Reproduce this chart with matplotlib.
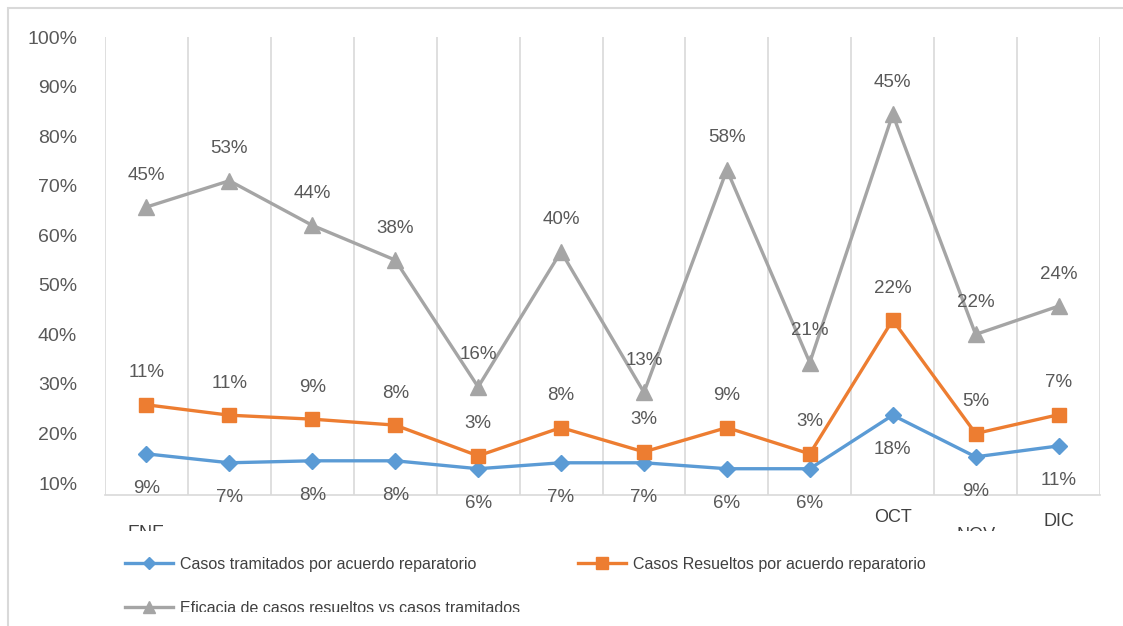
import matplotlib
matplotlib.use("Agg")
import matplotlib.pyplot as plt
from matplotlib.patches import Rectangle
from matplotlib.transforms import Bbox

W, H = 1123, 626

meses = ["ENE", "FEB", "MAR", "ABR", "MAY", "JUN", "JUL", "AGO", "SEP", "OCT", "NOV", "DIC"]
# only these month labels are visible in the original
meses_visibles = ["ENE", "OCT", "NOV", "DIC"]

tramitados = [15.9, 14.1, 14.5, 14.5, 12.9, 14.1, 14.1, 12.9, 12.9, 23.7, 15.3, 17.5]
resueltos = [25.8, 23.7, 22.9, 21.7, 15.5, 21.2, 16.3, 21.2, 15.9, 42.9, 20.0, 23.8]
eficacia = [65.7, 71.0, 62.0, 55.0, 29.4, 56.7, 28.3, 73.2, 34.3, 84.4, 40.0, 45.7]

etiq_tramitados = ["9%", "7%", "8%", "8%", "6%", "7%", "7%", "6%", "6%", "18%", "9%", "11%"]
etiq_resueltos = ["11%", "11%", "9%", "8%", "3%", "8%", "3%", "9%", "3%", "22%", "5%", "7%"]
etiq_eficacia = ["45%", "53%", "44%", "38%", "16%", "40%", "13%", "58%", "21%", "45%", "22%", "24%"]

azul = "#5B9BD5"
naranja = "#ED7D31"
gris = "#A5A5A5"
texto = "#595959"

plt.rcParams["font.family"] = ["Liberation Sans", "DejaVu Sans"]

fig = plt.figure(figsize=(W / 100, H / 100), dpi=100)
ax = fig.add_axes([105 / W, 1 - 495 / H, (1100 - 105) / W, (495 - 37) / H])

x = list(range(len(meses)))
l1, = ax.plot(x, tramitados, color=azul, lw=2.4, marker="D", ms=8, zorder=3,
              label="Casos tramitados por acuerdo reparatorio")
l2, = ax.plot(x, resueltos, color=naranja, lw=2.4, marker="s", ms=10, zorder=3,
              label="Casos Resueltos por acuerdo reparatorio")
l3, = ax.plot(x, eficacia, color=gris, lw=2.4, marker="^", ms=11, zorder=3,
              label="Eficacia de casos resueltos vs casos tramitados")

for i in x:
    ax.annotate(etiq_tramitados[i], (i, tramitados[i]), xytext=(0, -25), textcoords="offset points",
                ha="center", va="center", fontsize=13.5, color=texto)
    ax.annotate(etiq_resueltos[i], (i, resueltos[i]), xytext=(0, 23), textcoords="offset points",
                ha="center", va="center", fontsize=13.5, color=texto)
    ax.annotate(etiq_eficacia[i], (i, eficacia[i]), xytext=(0, 23), textcoords="offset points",
                ha="center", va="center", fontsize=13.5, color=texto)

ax.set_xlim(-0.5, len(meses) - 0.5)
ax.set_ylim(7.6, 100)
ax.set_yticks(range(10, 101, 10))
ax.set_yticklabels([f"{v}%" for v in range(10, 101, 10)], fontsize=14, color=texto)
ax.tick_params(axis="y", length=0, pad=20)
ax.set_xticks([])
ax.set_xticks([i - 0.5 for i in range(len(meses) + 1)], minor=True)
ax.tick_params(axis="x", which="both", length=0)
ax.grid(axis="x", which="minor", color="#D9D9D9", lw=1.2)
for s in ["top", "left", "right"]:
    ax.spines[s].set_visible(False)
ax.spines["bottom"].set_color("#D9D9D9")
ax.spines["bottom"].set_linewidth(1.2)

# month labels, staggered and cut off at the bottom like the original
corte = Bbox.from_extents(0, H - 531, W, H)
offsets = {"ENE": 533, "OCT": 518, "NOV": 536, "DIC": 521}
for m in meses_visibles:
    i = meses.index(m)
    xf = (105 + (i + 0.5) * (995 / 12)) / W
    t = fig.text(xf, 1 - offsets[m] / H, m, ha="center", va="center",
                 fontsize=13, color="#404040")
    t.set_clip_on(True)
    t.set_clip_box(corte)

leg = fig.legend(handles=[l1, l3, l2], ncol=2, loc="upper left",
                 bbox_to_anchor=(125 / W, 1 - 557 / H), frameon=False, fontsize=11.5,
                 borderaxespad=0, borderpad=0, markerscale=0.8,
                 handlelength=3.0, handletextpad=0.45, columnspacing=3.6, labelspacing=1.8,
                 labelcolor="#404040")
corte_leg = Bbox.from_extents(0, H - 612, W, H)
for t in leg.get_texts():
    t.set_clip_on(True)
    t.set_clip_box(corte_leg)

# chart border
fig.patches.append(Rectangle((8 / W, -0.1), 1.2, 1 - 8 / H + 0.1, transform=fig.transFigure,
                             fill=False, edgecolor="#D9D9D9", lw=1.5))

fig.savefig("out.png", dpi=100)
